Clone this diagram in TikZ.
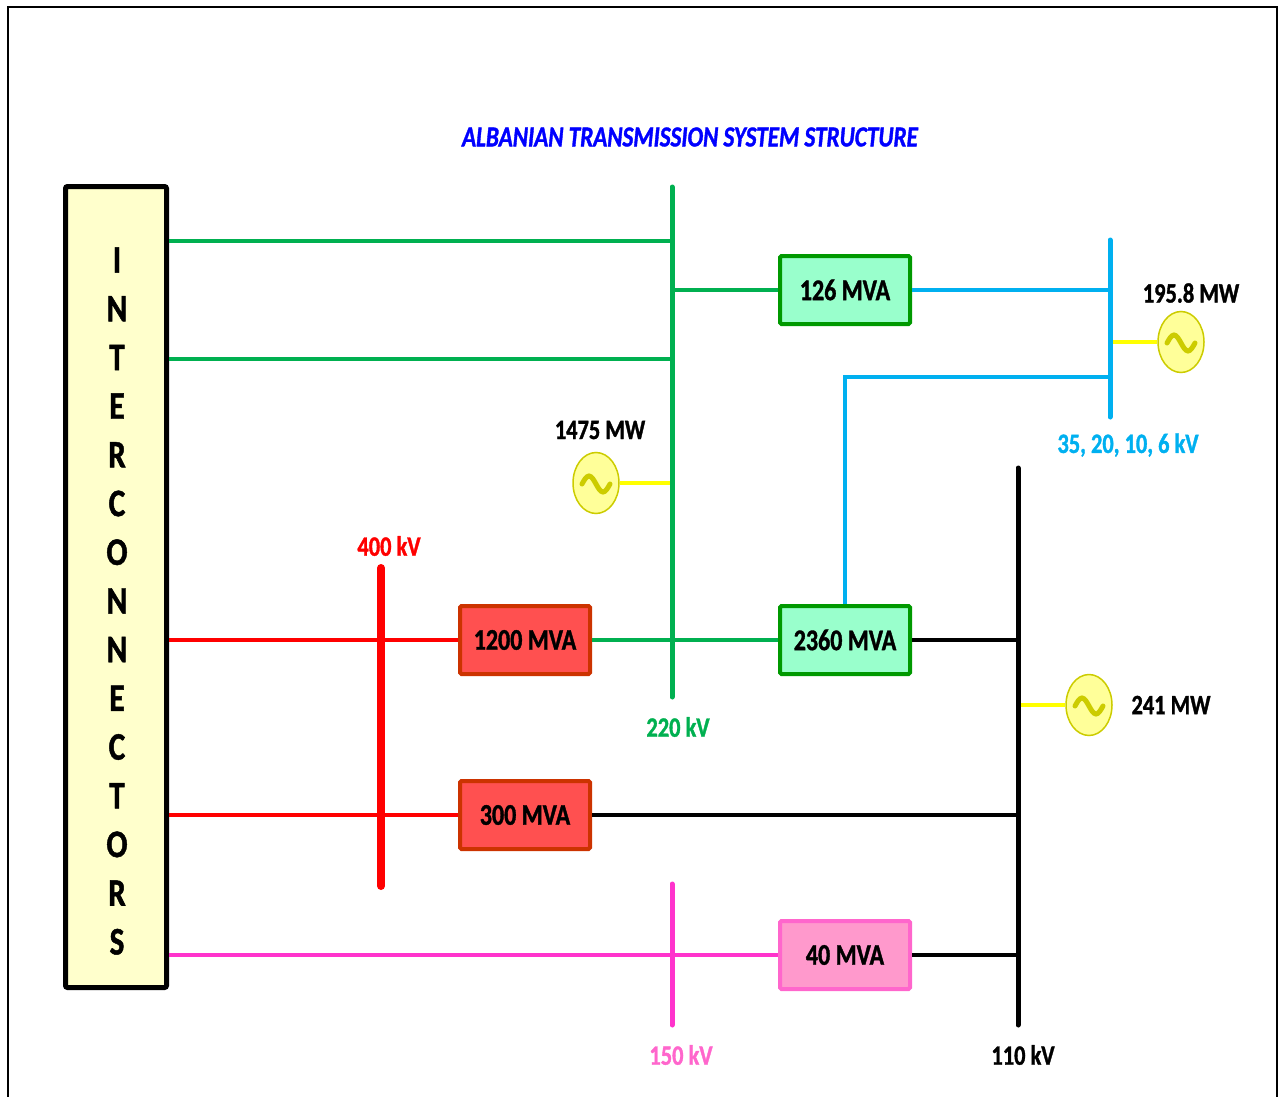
\documentclass[tikz,border=0pt]{standalone}
\usepackage{fontspec}
\setmainfont{Carlito}[FakeStretch=0.8,BoldFeatures={FakeBold=1.2},BoldItalicFeatures={FakeBold=1.2}]
\usetikzlibrary{shapes.geometric,calc}
\definecolor{gline}{HTML}{00B050}
\definecolor{gbord}{HTML}{009900}
\definecolor{gfill}{HTML}{99FFCC}
\definecolor{rline}{HTML}{FF0000}
\definecolor{rfill}{HTML}{FF5050}
\definecolor{rbord}{HTML}{CC3300}
\definecolor{bline}{HTML}{00B0F0}
\definecolor{yline}{HTML}{FFFF00}
\definecolor{yfill}{HTML}{FFFF99}
\definecolor{ybord}{HTML}{CCCC00}
\definecolor{pline}{HTML}{FF33CC}
\definecolor{pfill}{HTML}{FF99CC}
\definecolor{pbord}{HTML}{FF66CC}
\definecolor{icfill}{HTML}{FFFFCC}
\definecolor{titleblue}{HTML}{0000FF}
\begin{document}
\begin{tikzpicture}[x=1pt,y=-1pt,
  tbox/.style={rectangle,rounded corners=1.5pt,minimum width=130pt,minimum height=68pt,line width=4pt,inner sep=0pt,font=\fontsize{30}{30}\selectfont\bfseries},
  gbox/.style={tbox,draw=gbord,fill=gfill},
  rbox/.style={tbox,draw=rbord,fill=rfill},
  pbox/.style={tbox,draw=pbord,fill=pfill},
  wire/.style={line width=4pt},
  bus/.style={line width=5pt,line cap=round},
  gen/.style={ellipse,draw=ybord,fill=yfill,line width=1.5pt,minimum width=46pt,minimum height=61pt,inner sep=0pt},
  lbl/.style={font=\fontsize{28}{28}\selectfont\bfseries,inner sep=0pt},
  letter/.style={font=\fontsize{39}{39}\selectfont\bfseries,inner sep=0pt}]
\useasboundingbox (0,0) rectangle (1282,1097);
% outer frame
\draw[line width=1.5pt] (8,1097) -- (8,7) -- (1277,7) -- (1277,1097);
% title
\node[font=\fontsize{29}{29}\selectfont\bfseries\itshape,text=titleblue,inner sep=0pt] (title) at (690,137) {ALBANIAN TRANSMISSION SYSTEM STRUCTURE};
% interconnectors box
\node[rectangle,draw=black,fill=icfill,line width=5pt,rounded corners=2pt,minimum width=101pt,minimum height=801pt,inner sep=0pt] (ic) at (116,587) {};
\foreach \L [count=\i] in {I,N,T,E,R,C,O,N,N,E,C,T,O,R,S}
  \node[letter] (L\i) at (117,{260+(\i-1)*48.7}) {\L};
% bus coordinates
\coordinate (b220t) at (672,187); \coordinate (b220b) at (672,697);
\coordinate (b400t) at (381,568); \coordinate (b400b) at (381,886);
\coordinate (b110t) at (1018,468); \coordinate (b110b) at (1018,1025);
\coordinate (b150t) at (672,884); \coordinate (b150b) at (672,1025);
\coordinate (bLVt) at (1110,240); \coordinate (bLVb) at (1110,417);
% taps on buses
\coordinate (t220a) at (672,241); \coordinate (t220b) at (672,359);
\coordinate (t220c) at (672,290); \coordinate (t220g) at (672,483);
\coordinate (tLVa) at (1110,290); \coordinate (tLVb) at (1110,377);
\coordinate (tLVg) at (1110,342);
\coordinate (t110g) at (1018,705);
\coordinate (tbend) at (845,377);
% boxes
\node[gbox] (m126) at (845,290) {126 MVA};
\node[gbox] (m2360) at (845,640) {2360 MVA};
\node[rbox] (m1200) at (525,640) {1200 MVA};
\node[rbox] (m300) at (525,815) {300 MVA};
\node[pbox] (m40) at (845,955) {40 MVA};
% generators
\node[gen] (g1475) at (596,483) {};
\node[gen] (g195) at (1181,342) {};
\node[gen] (g241) at (1089,705) {};
\foreach \g in {g1475,g195,g241}
  \draw[ybord,line width=5pt,line cap=round] ($(\g.center)+(-14,1)$) sin ++(7,-8) cos ++(7,8) sin ++(7,8) cos ++(7,-8);
% connectors
\draw[wire,gline] (ic.east |- t220a) -- (t220a);
\draw[wire,gline] (ic.east |- t220b) -- (t220b);
\draw[wire,gline] (t220c) -- (m126.west);
\draw[wire,bline] (m126.east) -- (tLVa);
\draw[wire,bline] (tLVb) -- (tbend) -- (m2360.north);
\draw[wire,yline] (tLVg) -- (g195.west);
\draw[wire,yline] (g1475.east) -- (t220g);
\draw[wire,rline] (ic.east |- m1200.west) -- (m1200.west);
\draw[wire,gline] (m1200.east) -- (m2360.west);
\draw[wire,black] (m2360.east) -- (b110t |- m2360.east);
\draw[wire,yline] (t110g) -- (g241.west);
\draw[wire,rline] (ic.east |- m300.west) -- (m300.west);
\draw[wire,black] (m300.east) -- (b110t |- m300.east);
\draw[wire,pline] (ic.east |- m40.west) -- (m40.west);
\draw[wire,black] (m40.east) -- (b110t |- m40.east);
% buses
\draw[bus,gline] (b220t) -- (b220b);
\draw[bus,rline,line width=8pt] (b400t) -- (b400b);
\draw[bus,black] (b110t) -- (b110b);
\draw[bus,pline] (b150t) -- (b150b);
\draw[bus,bline] (bLVt) -- (bLVb);
% labels
\node[lbl] (l1475) at (600,430) {1475 MW};
\node[lbl] (l195) at (1191,293) {195.8 MW};
\node[lbl] (l241) at (1171,705) {241 MW};
\node[lbl,text=bline] (lLV) at (1128,445) {35, 20, 10, 6 kV};
\node[lbl,text=rline] (l400) at (389,546) {400 kV};
\node[lbl,text=gline] (l220) at (678,727) {220 kV};
\node[lbl,text=pbord] (l150) at (681,1055) {150 kV};
\node[lbl] (l110) at (1023,1055) {110 kV};
\end{tikzpicture}
\end{document}
